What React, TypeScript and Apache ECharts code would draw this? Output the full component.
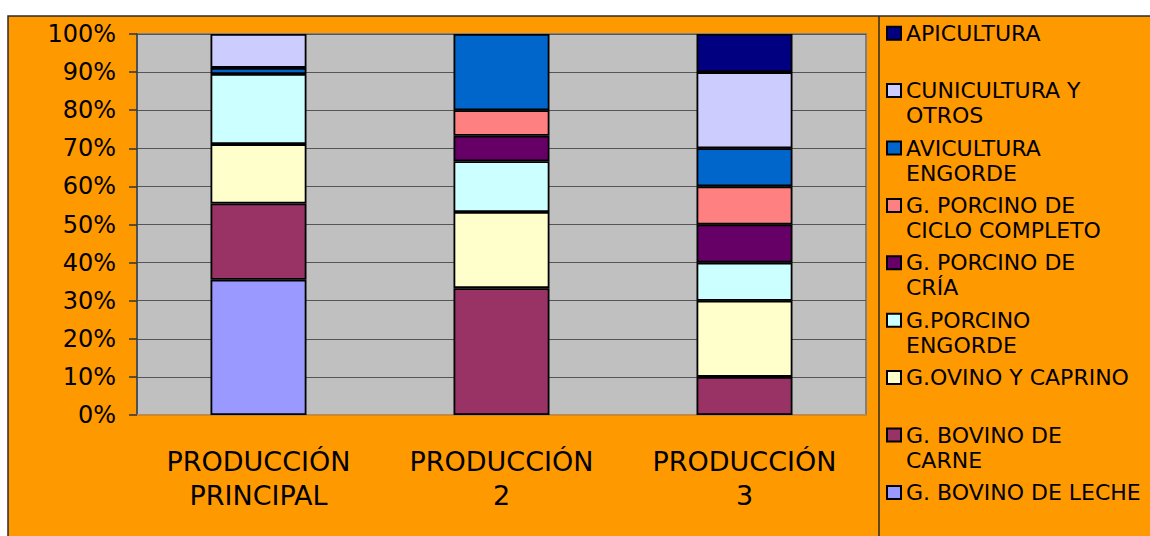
import React, { useEffect, useRef } from "react";
import * as echarts from "echarts";

const categories = ["PRODUCCIÓN\nPRINCIPAL", "PRODUCCIÓN\n2", "PRODUCCIÓN\n3"];

// Series, bottom of the stack first
const seriesNames = [
  "G. BOVINO DE LECHE",
  "G. BOVINO DE\nCARNE",
  "G.OVINO Y CAPRINO",
  "G.PORCINO\nENGORDE",
  "G. PORCINO DE\nCRÍA",
  "G. PORCINO DE\nCICLO COMPLETO",
  "AVICULTURA\nENGORDE",
  "CUNICULTURA Y\nOTROS",
  "APICULTURA",
];
const bovinoLeche = [35.5, null, null];
const bovinoCarne = [20, 33.3, 10];
const ovinoCaprino = [15.6, 20, 20];
const porcinoEngorde = [18.4, 13.3, 10];
const porcinoCria = [null, 6.7, 10];
const porcinoCiclo = [null, 6.7, 10];
const aviculturaEngorde = [1.6, 20, 10];
const cuniculturaOtros = [8.9, null, 20];
const apicultura = [null, null, 10];
const seriesValues = [
  bovinoLeche,
  bovinoCarne,
  ovinoCaprino,
  porcinoEngorde,
  porcinoCria,
  porcinoCiclo,
  aviculturaEngorde,
  cuniculturaOtros,
  apicultura,
];
const seriesColors = [
  "#9999FF",
  "#993366",
  "#FFFFCC",
  "#CCFFFF",
  "#660066",
  "#FF8080",
  "#0066CC",
  "#CCCCFF",
  "#000080",
];
const yTicks = { min: 0, max: 100, interval: 10 };

const FONT = "'DejaVu Sans', Verdana, sans-serif";

export default function App() {
  const ref = useRef<HTMLDivElement>(null);
  useEffect(() => {
    if (!ref.current) return;
    const chart = echarts.init(ref.current, null, { renderer: "svg" });

    // legend order: top of stack first
    const legendOrder = seriesNames.slice().reverse();
    const legends = legendOrder.map((name, i) => {
      const twoLines = name.indexOf("\n") >= 0;
      const lineCenter = 33.2 + i * 57.4;
      return {
        data: [name],
        orient: "vertical",
        left: 886,
        top: lineCenter - (twoLines ? 37.5 : 12.5),
        padding: 0,
        itemWidth: 14,
        itemHeight: 13,
        icon: "rect",
        selectedMode: false,
        formatter: (n: string) => (twoLines ? " \n" + n : n),
        textStyle: {
          color: "#000",
          fontSize: 22,
          lineHeight: 25,
          fontFamily: FONT,
        },
      };
    });

    chart.setOption({
      animation: false,
      backgroundColor: "#ffffff",
      graphic: [
        {
          type: "rect",
          z: -10,
          shape: { x: 8, y: 16, width: 1150, height: 530 },
          style: { fill: "#FF9900", stroke: "#2b2b2b", lineWidth: 1.5 },
          silent: true,
        },
        {
          type: "line",
          z: -9,
          shape: { x1: 879, y1: 16, x2: 879, y2: 536 },
          style: { stroke: "#2b2b2b", lineWidth: 1.5 },
          silent: true,
        },
      ],
      legend: legends,
      grid: {
        left: 137,
        top: 34,
        right: 284,
        bottom: 121,
        show: true,
        backgroundColor: "#C0C0C0",
        borderColor: "#808080",
        borderWidth: 2,
      },
      xAxis: {
        type: "category",
        data: categories,
        axisLine: { show: true, lineStyle: { color: "#C68A3C", width: 2 } },
        axisTick: { show: false },
        axisLabel: {
          color: "#000",
          fontSize: 27,
          lineHeight: 34,
          margin: 29,
          fontFamily: FONT,
          interval: 0,
        },
        splitLine: { show: false },
      },
      yAxis: {
        type: "value",
        min: yTicks.min,
        max: yTicks.max,
        interval: yTicks.interval,
        axisLine: { show: true, lineStyle: { color: "#404040", width: 1.5 } },
        axisTick: { show: true, length: 8, lineStyle: { color: "#333", width: 1.5 } },
        axisLabel: {
          formatter: "{value}%",
          color: "#000",
          fontSize: 24,
          margin: 21,
          fontFamily: FONT,
        },
        splitLine: { show: true, lineStyle: { color: "#555", width: 1.2 } },
      },
      series: seriesNames.map((name, i) => ({
        name,
        type: "bar",
        stack: "total",
        barWidth: "39.5%",
        data: seriesValues[i],
        itemStyle: { color: seriesColors[i], borderColor: "#000", borderWidth: 1.8 },
      })),
    });
    return () => chart.dispose();
  }, []);
  return (
    <div
      ref={ref}
      style={{ position: "fixed", left: 0, top: 0, width: 1150, height: 536 }}
    />
  );
}
